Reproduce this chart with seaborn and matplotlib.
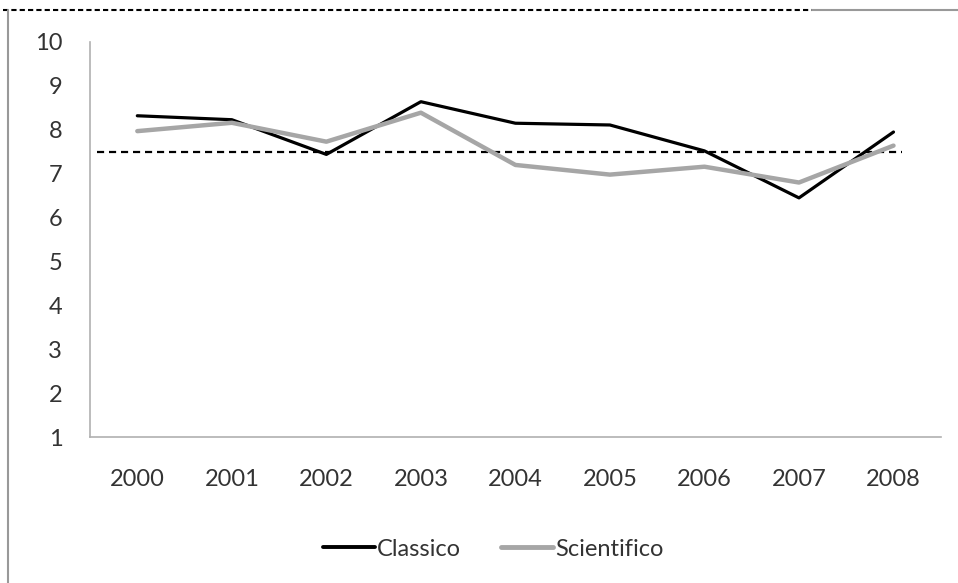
import seaborn as sns
import pandas as pd
import matplotlib.pyplot as plt
from matplotlib.lines import Line2D

years = ["2000", "2001", "2002", "2003", "2004", "2005", "2006", "2007", "2008"]
classico = [8.32, 8.23, 7.44, 8.64, 8.15, 8.11, 7.52, 6.45, 7.95]
scientifico = [7.97, 8.16, 7.73, 8.39, 7.20, 6.98, 7.16, 6.80, 7.64]
soglia = 7.5

df = pd.DataFrame({
    "anno": years * 2,
    "voto": classico + scientifico,
    "liceo": ["Classico"] * len(years) + ["Scientifico"] * len(years),
})

sns.set_style("white")
plt.rcParams["font.family"] = ["Lato", "DejaVu Sans"]

fig = plt.figure(figsize=(9.58, 5.83), dpi=100)
ax = fig.add_axes([0.094, 0.25, 0.888, 0.678])

sns.lineplot(data=df, x="anno", y="voto", hue="liceo", sort=False,
             palette={"Classico": "#000000", "Scientifico": "#a6a6a6"},
             ax=ax, legend=False)
ax.lines[0].set_linewidth(2.3)
ax.lines[1].set_linewidth(3.2)

ax.axhline(soglia, xmin=0.008, xmax=0.954, color="black", lw=1.6,
           ls=(0, (3.2, 2.2)), zorder=1)

ax.set_xlim(-0.5, len(years) - 0.5)
ax.set_ylim(1, 10)
ax.set_yticks(range(1, 11))
ax.set_xlabel("")
ax.set_ylabel("")
ax.tick_params(axis="x", length=0, pad=23, labelsize=17, labelcolor="#333333")
ax.tick_params(axis="y", length=0, pad=20, labelsize=17, labelcolor="#333333")
for side in ["top", "right"]:
    ax.spines[side].set_visible(False)
for side in ["left", "bottom"]:
    ax.spines[side].set_color("#b0b0b0")
    ax.spines[side].set_linewidth(1.2)

handles = [Line2D([], [], color="#000000", lw=2.8),
           Line2D([], [], color="#a6a6a6", lw=3.5)]
fig.legend(handles, ["Classico", "Scientifico"], loc="center",
           bbox_to_anchor=(0.515, 0.058), ncol=2, frameon=False,
           fontsize=17, handlelength=2.2, handletextpad=0.1,
           columnspacing=1.7, labelcolor="#333333")

# cornice della figura originale
fig.add_artist(Line2D([0.003, 0.848], [0.983, 0.983], color="black", lw=1.5,
                      ls=(0, (2.5, 1.5)), transform=fig.transFigure))
fig.add_artist(Line2D([0.848, 1.0], [0.983, 0.983], color="#999999", lw=1.5,
                      transform=fig.transFigure))
fig.add_artist(Line2D([0.008, 0.008], [0.0, 0.983], color="#999999", lw=1.5,
                      transform=fig.transFigure))

fig.savefig("out.png", dpi=100)
